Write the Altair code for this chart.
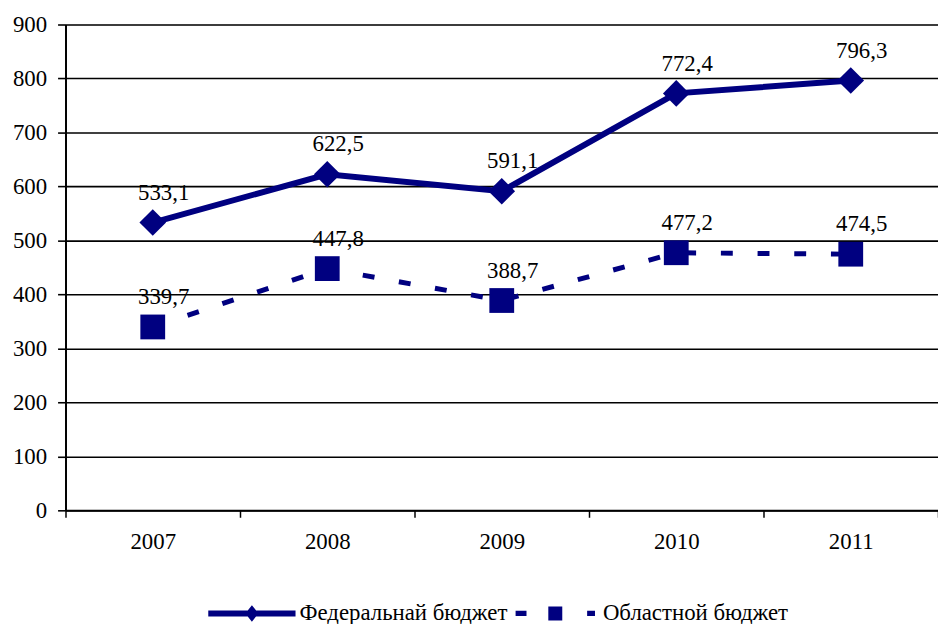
import altair as alt
import pandas as pd

years = ["2007", "2008", "2009", "2010", "2011"]
federal = [533.1, 622.5, 591.1, 772.4, 796.3]
regional = [339.7, 447.8, 388.7, 477.2, 474.5]
series_names = ["Федеральнай бюджет", "Областной бюджет"]
y_ticks = [0, 100, 200, 300, 400, 500, 600, 700, 800, 900]

NAVY = "#000080"
FONT = "Liberation Serif"
FS = 23

rows = []
for name, vals in zip(series_names, [federal, regional]):
    for yr, v in zip(years, vals):
        rows.append({"year": yr, "value": v, "series": name,
                     "label": f"{v:.1f}".replace(".", ",")})
df = pd.DataFrame(rows)
fed_df = df[df.series == series_names[0]]
reg_df = df[df.series == series_names[1]]

xenc = alt.X("year:O", bandPosition=0.5,
             scale=alt.Scale(type="band", paddingInner=0, paddingOuter=0, domain=years),
             axis=alt.Axis(title=None, labelAngle=0, tickBand="extent", grid=False,
                           tickSize=7, tickColor="black", tickWidth=1.5,
                           domainColor="black", domainWidth=2,
                           labelFont=FONT, labelFontSize=FS, labelColor="black",
                           labelPadding=14))
yenc = alt.Y("value:Q",
             scale=alt.Scale(domain=[0, 900], nice=False),
             axis=alt.Axis(title=None, values=y_ticks, grid=True, gridColor="black",
                           gridWidth=1.6, gridOpacity=1, tickSize=8, tickColor="black",
                           tickWidth=1.6, domainColor="black", domainWidth=2,
                           labelFont=FONT, labelFontSize=FS, labelColor="black",
                           labelPadding=11))

fed_line = alt.Chart(fed_df).mark_line(color=NAVY, strokeWidth=6).encode(x=xenc, y=yenc)
reg_line = alt.Chart(reg_df).mark_line(color=NAVY, strokeWidth=5, strokeDash=[12, 25]).encode(x=xenc, y=yenc)
fed_pts = alt.Chart(fed_df).mark_point(shape="diamond", filled=True, color=NAVY, size=720, opacity=1).encode(x=xenc, y=yenc)
reg_pts = alt.Chart(reg_df).mark_point(shape="square", filled=True, color=NAVY, size=625, opacity=1).encode(x=xenc, y=yenc)
labels = alt.Chart(df).mark_text(font=FONT, fontSize=FS, color="black", dx=11, dy=-30).encode(
    x=xenc, y=yenc, text="label:N")

path_fed = "M-1,-0.07H1V0.07H-1Z M0,-0.19L0.15,0L0,0.19L-0.15,0Z"
path_reg = ("M-0.91,-0.06H-0.66V0.06H-0.91Z M-0.16,-0.16H0.16V0.16H-0.16Z "
            "M0.73,-0.06H0.91V0.06H0.73Z")

legend_layer = alt.Chart(df).mark_point(filled=True, color=NAVY, opacity=0, strokeWidth=0).encode(
    x=xenc, y=yenc,
    shape=alt.Shape("series:N",
                    scale=alt.Scale(domain=series_names, range=[path_fed, path_reg]),
                    legend=alt.Legend(title=None, orient="none", direction="horizontal",
                                      legendX=144, legendY=550, symbolSize=7744,
                                      symbolStrokeWidth=0, symbolFillColor=NAVY,
                                      labelFont=FONT, labelFontSize=FS, labelColor="black",
                                      labelOffset=4, columnPadding=4, padding=0,
                                      labelLimit=400)))

chart = alt.layer(fed_line, reg_line, fed_pts, reg_pts, labels, legend_layer).properties(
    width=880, height=490,
    autosize=alt.AutoSizeParams(type="none"),
    padding={"left": 58, "top": 14, "right": 0, "bottom": 112},
).configure_view(stroke=None).configure(background="white")

chart.save("out.html", embed_options={"renderer": "svg", "actions": False})
